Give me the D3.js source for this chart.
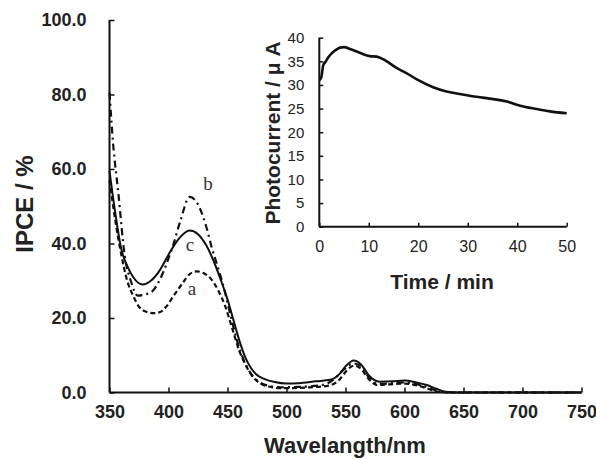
<!DOCTYPE html>
<html>
<head>
<meta charset="utf-8">
<script src="https://cdn.jsdelivr.net/npm/d3@7"></script>
<style>
  body { margin: 0; background: #fff; }
  svg { display: block; }
</style>
</head>
<body>
<script>
// IPCE curves: [wavelength nm, IPCE %]
var curveA = [[350,57],[355,46],[360,37],[365,30],[370,26],[375,23],[380,21.8],[388,21.3],[393,21.6],[398,23],[404,25.8],[412,29.4],[418,31.8],[424,32.5],[430,32],[436,30.5],[442,27.5],[448,23.2],[454,17.2],[460,11.2],[466,7],[472,4],[478,2.4],[485,1.6],[494,1.2],[505,1.2],[520,1.4],[535,1.8],[545,3.5],[550,5.5],[557,7.2],[563,6.4],[570,3.5],[577,2.0],[588,2.2],[600,2.4],[612,1.8],[620,1],[628,0.2],[640,0],[750,0]];
var curveB = [[350,80.5],[353,67],[357.5,53.5],[363,36.5],[368,30],[374,26],[380,26.3],[386,27.1],[393,30.5],[400,36],[404,39.6],[410,46],[418,52.5],[425,50.5],[432,44.5],[437,38.5],[442,33.5],[447,28],[452,21.5],[458,14],[464,8.5],[470,5],[476,3],[485,1.8],[495,1.4],[510,1.5],[530,2],[540,3.5],[548,6],[557,7.8],[564,6.8],[570,4],[578,2.3],[590,2.5],[600,2.7],[612,2.1],[620,1.3],[628,0.4],[637,0],[750,0]];
var curveC = [[350,59.5],[355,48],[360,38.5],[365,34],[370,31],[378,29],[385,30],[393,33],[400,37],[408,41],[418,43.5],[425,42.5],[432,39.5],[438,35.5],[444,30.5],[450,25],[455,19.5],[460,14],[465,9.5],[470,6.5],[475,4.7],[480,3.8],[490,2.8],[500,2.4],[510,2.5],[525,3],[537,3.4],[545,5],[550,7],[557,8.6],[563,7.6],[570,4.5],[579,2.9],[590,3],[600,3.2],[610,2.7],[619,2.0],[627,1],[635,0.2],[645,0],[750,0]];

var xTicks = [350,400,450,500,550,600,650,700,750];
var yTicks = [0,20,40,60,80,100];

// inset: photocurrent vs time
var photoTime = [0,0.4,0.8,1.2,1.8,2.5,3.2,4.2,5,6.2,8.2,10.2,11.6,13.3,15.6,17.6,20,23,25.7,28.4,31.8,35.2,37.9,40.6,43.9,46.6,50];
var photoCurrent = [31.0,31.6,34.2,34.8,35.8,36.7,37.3,37.9,38.0,37.6,36.8,36.1,36.0,35.2,33.6,32.5,31.0,29.5,28.6,28.1,27.5,27.0,26.5,25.6,24.9,24.4,24.0];
var insetXTicks = [0,10,20,30,40,50];
var insetYTicks = [0,5,10,15,20,25,30,35,40];

var svg = d3.select("body").append("svg")
  .attr("width", 596).attr("height", 459);

var x = d3.scaleLinear().domain([350, 750]).range([109.5, 581.5]);
var y = d3.scaleLinear().domain([0, 100]).range([392.5, 20]);

var bold = "'Liberation Sans', Arial, sans-serif";

// main axes
var xAxis = d3.axisBottom(x).tickValues(xTicks).tickSize(-5).tickFormat(d3.format("d")).tickPadding(13);
var gx = svg.append("g").attr("transform", "translate(0,392.5)").call(xAxis);
var yAxis = d3.axisLeft(y).tickValues(yTicks).tickSize(-5).tickFormat(d3.format(".1f")).tickPadding(23);
var gy = svg.append("g").attr("transform", "translate(109.5,0)").call(yAxis);

[gx, gy].forEach(function (g) {
  g.select(".domain").attr("stroke", "#111").attr("stroke-width", 2);
  g.selectAll(".tick line").attr("stroke", "#111").attr("stroke-width", 1.5);
  g.selectAll("text").attr("fill", "#222").style("font-family", bold)
    .style("font-size", "18px").style("font-weight", "bold");
});
gx.select(".domain").attr("d", "M109.5,0H581.5");
gy.select(".domain").attr("d", "M0,392.5V20");

var line = d3.line()
  .x(function (d) { return x(d[0]); })
  .y(function (d) { return y(d[1]); })
  .curve(d3.curveMonotoneX);

svg.append("path").datum(curveA).attr("d", line)
  .attr("fill", "none").attr("stroke", "#111").attr("stroke-width", 2.2)
  .attr("stroke-dasharray", "5,3");
svg.append("path").datum(curveB).attr("d", line)
  .attr("fill", "none").attr("stroke", "#111").attr("stroke-width", 2.2)
  .attr("stroke-dasharray", "7,4,2,4");
svg.append("path").datum(curveC).attr("d", line)
  .attr("fill", "none").attr("stroke", "#111").attr("stroke-width", 2);

// curve labels
var serif = "'Liberation Serif', 'Times New Roman', serif";
[["a", 192, 295], ["b", 208, 190], ["c", 190, 251]].forEach(function (l) {
  svg.append("text").text(l[0]).attr("x", l[1]).attr("y", l[2])
    .attr("text-anchor", "middle").style("font-family", serif)
    .style("font-size", "19px").attr("fill", "#333");
});

// main titles
svg.append("text").text("Wavelangth/nm")
  .attr("x", 345).attr("y", 453).attr("text-anchor", "middle")
  .style("font-family", bold).style("font-weight", "bold").style("font-size", "22px").attr("fill", "#222");
svg.append("text").text("IPCE / %")
  .attr("transform", "translate(33,204) rotate(-90)").attr("text-anchor", "middle")
  .style("font-family", bold).style("font-weight", "bold").style("font-size", "24px").attr("fill", "#222");

// inset
var ix = d3.scaleLinear().domain([0, 50]).range([319.3, 566.7]);
var iy = d3.scaleLinear().domain([0, 40]).range([226.7, 37.7]);

var igx = svg.append("g").attr("transform", "translate(0,226.7)")
  .call(d3.axisBottom(ix).tickValues(insetXTicks).tickSize(-4).tickPadding(14));
var igy = svg.append("g").attr("transform", "translate(319.3,0)")
  .call(d3.axisLeft(iy).tickValues(insetYTicks).tickSize(-4).tickPadding(15));
[igx, igy].forEach(function (g) {
  g.select(".domain").attr("stroke", "#111").attr("stroke-width", 2);
  g.selectAll(".tick line").attr("stroke", "#111").attr("stroke-width", 1.5);
  g.selectAll("text").attr("fill", "#222").style("font-family", bold).style("font-size", "15px");
});
igx.select(".domain").attr("d", "M319.3,0H566.7");
igy.select(".domain").attr("d", "M0,226.7V37.7");
igx.selectAll("text").style("font-size", "16px");

var iline = d3.line()
  .x(function (d, i) { return ix(photoTime[i]); })
  .y(function (d) { return iy(d); })
  .curve(d3.curveMonotoneX);
svg.append("path").datum(photoCurrent).attr("d", iline)
  .attr("fill", "none").attr("stroke", "#111").attr("stroke-width", 2.6);

svg.append("text").text("Time / min")
  .attr("x", 442).attr("y", 289).attr("text-anchor", "middle")
  .style("font-family", bold).style("font-weight", "bold").style("font-size", "21px").attr("fill", "#222");
svg.append("text").text("Photocurrent / \u03bc A")
  .attr("transform", "translate(280,133) rotate(-90)").attr("text-anchor", "middle")
  .style("font-family", bold).style("font-weight", "bold").style("font-size", "21px").attr("fill", "#222");
</script>
</body>
</html>
